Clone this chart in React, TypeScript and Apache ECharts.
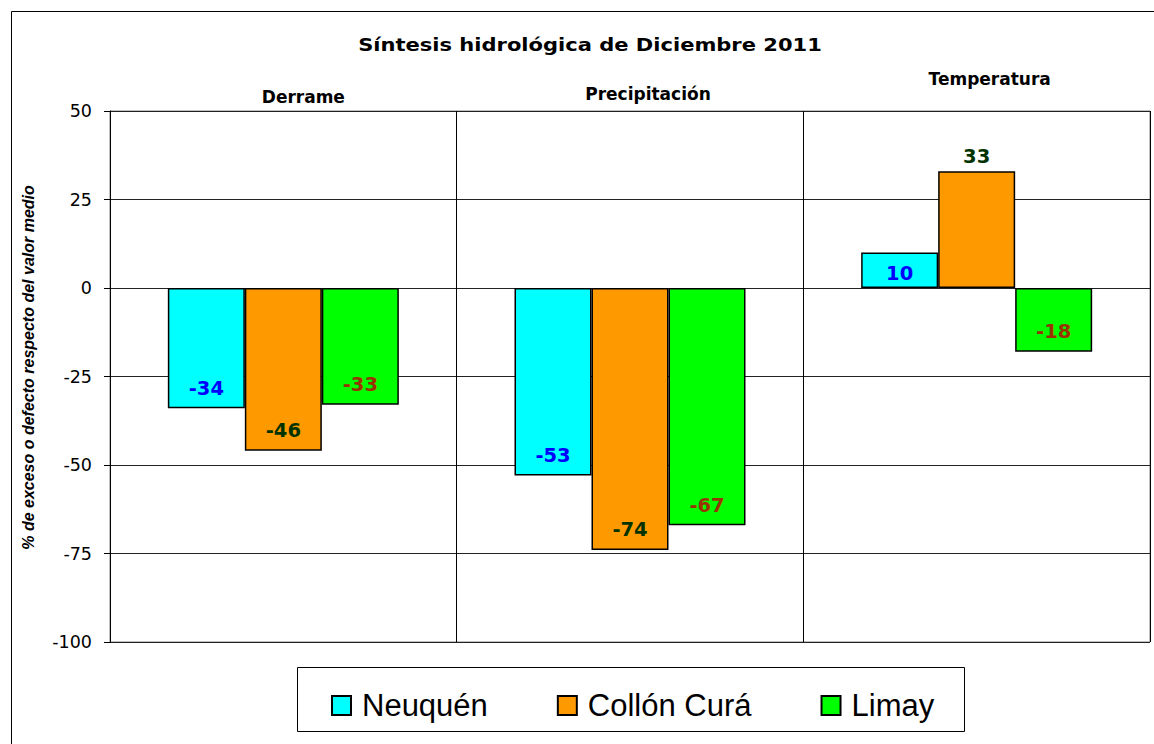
import React, { useEffect, useRef } from "react";
import * as echarts from "echarts";

const titleText = "Síntesis hidrológica de Diciembre 2011";
const categories = ["Derrame", "Precipitación", "Temperatura"];
const seriesNames = ["Neuquén", "Collón Curá", "Limay"];
const neuquen = [-34, -53, 10];
const collonCura = [-46, -74, 33];
const limay = [-33, -67, -18];
const yMin = -100;
const yMax = 50;
const yStep = 25;
const yAxisName = "% de exceso o defecto respecto del valor medio";

const barColors = ["#00ffff", "#ff9900", "#00ff00"];
const labelColors = ["#0000ff", "#003300", "#993300"];
const catKeys = ["d", "p", "t"];

export default function App() {
  const ref = useRef<HTMLDivElement>(null);
  useEffect(() => {
    document.body.style.margin = "0";
    const chart = echarts.init(ref.current!, null, { renderer: "svg" });
    const values = [neuquen, collonCura, limay];
    const series = values.map((vals, si) => ({
      name: seriesNames[si],
      type: "bar",
      barWidth: 77,
      barGap: "0%",
      itemStyle: { color: barColors[si], borderColor: "#000", borderWidth: 1.5 },
      label: {
        show: true,
        position: "insideBottom",
        distance: 10,
        formatter: "{c}",
        color: labelColors[si],
        fontFamily: "DejaVu Sans",
        fontWeight: "bold",
        fontSize: 19.5,
      },
      data: vals.map((v) =>
        v >= 0
          ? {
              value: v,
              label: si === 1 ? { position: "top", distance: 5 } : { position: "insideBottom", distance: 5 },
            }
          : { value: v }
      ),
    }));
    const rich: any = {};
    const pads = [
      [0, 0, 0, 40],
      [0, 0, 3, 36],
      [0, 0, 18, 26],
    ];
    catKeys.forEach((k, i) => {
      rich[k] = {
        fontFamily: "DejaVu Sans",
        fontWeight: "bold",
        fontSize: 17,
        color: "#000",
        padding: pads[i],
      };
    });
    chart.setOption({
      animation: false,
      backgroundColor: "#fff",
      grid: {
        left: 110,
        top: 111,
        width: 1040,
        height: 531,
        show: true,
        borderColor: "#808080",
        borderWidth: 1,
        backgroundColor: "transparent",
      },
      xAxis: {
        type: "category",
        position: "top",
        data: categories,
        boundaryGap: true,
        axisLine: { show: false },
        axisTick: { show: false },
        splitLine: { show: true, lineStyle: { color: "#000", width: 1 } },
        axisLabel: {
          margin: 6,
          formatter: (v: string) => `{${catKeys[categories.indexOf(v)]}|${v}}`,
          rich,
        },
      },
      yAxis: {
        type: "value",
        min: yMin,
        max: yMax,
        interval: yStep,
        name: yAxisName,
        nameLocation: "middle",
        nameRotate: 90,
        nameGap: 74,
        nameTextStyle: {
          fontFamily: "Liberation Sans",
          fontStyle: "italic",
          fontWeight: "bold",
          fontSize: 16,
          color: "#000",
          padding: [0, 0, 0, 18],
        },
        axisLine: { show: true, lineStyle: { color: "#000", width: 1 } },
        axisTick: { show: true, length: 6, lineStyle: { color: "#000" } },
        axisLabel: {
          margin: 18,
          fontFamily: "DejaVu Sans",
          fontSize: 17.5,
          color: "#000",
        },
        splitLine: { show: true, lineStyle: { color: "#222", width: 1 } },
      },
      legend: {
        data: seriesNames,
        left: 331,
        top: 690,
        padding: 0,
        itemWidth: 19,
        itemHeight: 19,
        itemGap: 69,
        icon: "rect",
        textStyle: {
          fontFamily: "Liberation Sans",
          fontSize: 31,
          color: "#000",
          padding: [0, 0, 0, 6],
        },
      },
      graphic: [
        {
          type: "rect",
          shape: { x: 11.5, y: 11.5, width: 1200, height: 800 },
          style: { fill: "none", stroke: "#000", lineWidth: 1 },
          silent: true,
        },
        {
          type: "rect",
          shape: { x: 297.5, y: 667.5, width: 667, height: 64 },
          style: { fill: "none", stroke: "#000", lineWidth: 1 },
          silent: true,
        },
        {
          type: "text",
          x: 590,
          y: 45,
          scaleX: 1.237,
          style: {
            text: titleText,
            font: "bold 17px 'DejaVu Sans'",
            fill: "#000",
            textAlign: "center",
            textVerticalAlign: "middle",
          },
        },
      ],
      series,
    });
    return () => chart.dispose();
  }, []);
  return <div ref={ref} style={{ width: 1154, height: 744, overflow: "hidden" }} />;
}
